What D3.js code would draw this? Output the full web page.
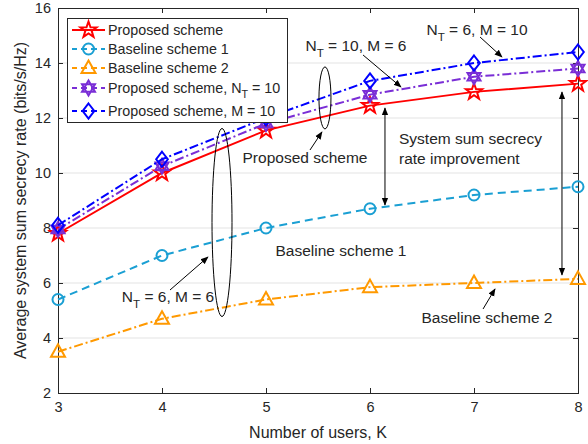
<!DOCTYPE html>
<html>
<head>
<meta charset="utf-8">
<script src="https://cdn.jsdelivr.net/npm/d3@7"></script>
<style>
  body { margin: 0; background: #fff; }
  text { font-family: "Liberation Sans", Arial, sans-serif; fill: #262626; }
</style>
</head>
<body>
<div id="chart"></div>
<script>
// data
var users = [3, 4, 5, 6, 7, 8];
var proposed = [7.8, 10.0, 11.55, 12.45, 12.95, 13.25];
var baseline1 = [5.4, 7.0, 8.0, 8.7, 9.2, 9.5];
var baseline2 = [3.5, 4.7, 5.4, 5.85, 6.0, 6.15];
var proposedNT10 = [7.95, 10.25, 11.8, 12.85, 13.5, 13.8];
var proposedM10 = [8.1, 10.5, 12.0, 13.35, 14.0, 14.4];
var xTicks = [3, 4, 5, 6, 7, 8];
var yTicks = [2, 4, 6, 8, 10, 12, 14, 16];

var w = 588, h = 444;
var margin = { top: 8, right: 10, bottom: 51, left: 58 };

var svg = d3.select("#chart").append("svg")
  .attr("width", w)
  .attr("height", h);

var xScale = d3.scaleLinear().domain([3, 8]).range([margin.left, w - margin.right]);
var yScale = d3.scaleLinear().domain([2, 16]).range([h - margin.bottom, margin.top]);

// grid
svg.append("g").selectAll("line")
  .data(yTicks.slice(1, -1))
  .enter().append("line")
  .attr("x1", xScale(3)).attr("x2", xScale(8))
  .attr("y1", function(d) { return yScale(d); })
  .attr("y2", function(d) { return yScale(d); })
  .attr("stroke", "#e3e3e3")
  .attr("stroke-width", 1);

// axes, ticks inward
var xAxis = d3.axisBottom(xScale).tickValues(xTicks).tickFormat(d3.format("d")).tickSize(-5).tickSizeOuter(0).tickPadding(9);
var xAxisTop = d3.axisTop(xScale).tickValues(xTicks).tickSize(-5).tickSizeOuter(0).tickFormat("");
var yAxis = d3.axisLeft(yScale).tickValues(yTicks).tickFormat(d3.format("d")).tickSize(-5).tickSizeOuter(0).tickPadding(7);
var yAxisRight = d3.axisRight(yScale).tickValues(yTicks).tickSize(-5).tickSizeOuter(0).tickFormat("");

function styleAxis(g) {
  g.select(".domain").remove();
  g.selectAll("line").attr("stroke", "#262626");
  g.selectAll("text").style("font-size", "14.5px").attr("fill", "#262626")
   .style("font-family", "Liberation Sans, Arial, sans-serif");
}
svg.append("g").attr("transform", "translate(0," + yScale(2) + ")").call(xAxis).call(styleAxis);
svg.append("g").attr("transform", "translate(0," + yScale(16) + ")").call(xAxisTop).call(styleAxis);
svg.append("g").attr("transform", "translate(" + xScale(3) + ",0)").call(yAxis).call(styleAxis);
svg.append("g").attr("transform", "translate(" + xScale(8) + ",0)").call(yAxisRight).call(styleAxis);

svg.append("rect")
  .attr("x", xScale(3) + 0.5).attr("y", yScale(16) + 0.5)
  .attr("width", xScale(8) - xScale(3)).attr("height", yScale(2) - yScale(16))
  .attr("fill", "none").attr("stroke", "#262626").attr("stroke-width", 1);

// markers
function starPath(R, n, ratio) {
  var pts = [];
  for (var i = 0; i < 2 * n; i++) {
    var r = i % 2 === 0 ? R : R * ratio;
    var a = -Math.PI / 2 + i * Math.PI / n;
    pts.push([r * Math.cos(a), r * Math.sin(a)]);
  }
  return "M" + pts.map(function(p) { return p[0].toFixed(2) + "," + p[1].toFixed(2); }).join("L") + "Z";
}
function hexagramPath(R) {
  var p = "";
  [ -Math.PI / 2, Math.PI / 2 ].forEach(function(a0) {
    var pts = [];
    for (var i = 0; i < 3; i++) {
      var a = a0 + i * 2 * Math.PI / 3;
      pts.push([R * Math.cos(a), R * Math.sin(a)]);
    }
    p += "M" + pts.map(function(q) { return q[0].toFixed(2) + "," + q[1].toFixed(2); }).join("L") + "Z";
  });
  return p;
}
var markers = {
  star: starPath(8.5, 5, 0.4),
  circle: "M5.5,0A5.5,5.5 0 1,1 -5.5,0A5.5,5.5 0 1,1 5.5,0Z",
  triangle: "M0,-7.5L7,5L-7,5Z",
  hexagram: hexagramPath(7.5),
  diamond: "M0,-7.5L5.8,0L0,7.5L-5.8,0Z"
};

var series = [
  { name: "Proposed scheme", values: proposed, color: "#ff0000", dash: null, marker: "star" },
  { name: "Baseline scheme 1", values: baseline1, color: "#1a9fd3", dash: "8,5", marker: "circle" },
  { name: "Baseline scheme 2", values: baseline2, color: "#ff9900", dash: "9,3,2,3", marker: "triangle" },
  { name: "Proposed scheme, N", sub: "T", after: " = 10", values: proposedNT10, color: "#7a2ed6", dash: "9,3,2,3", marker: "hexagram" },
  { name: "Proposed scheme, M = 10", values: proposedM10, color: "#0000ff", dash: "9,3,2,3", marker: "diamond" }
];

var line = d3.line()
  .x(function(d, i) { return xScale(users[i]); })
  .y(function(d) { return yScale(d); });

series.forEach(function(s) {
  svg.append("path")
    .datum(s.values)
    .attr("d", line)
    .attr("fill", "none")
    .attr("stroke", s.color)
    .attr("stroke-width", 2)
    .attr("stroke-dasharray", s.dash);
  svg.append("g").selectAll("path")
    .data(s.values)
    .enter().append("path")
    .attr("d", markers[s.marker])
    .attr("transform", function(d, i) { return "translate(" + xScale(users[i]) + "," + yScale(d) + ")"; })
    .attr("fill", "none")
    .attr("stroke", s.color)
    .attr("stroke-width", 2);
});

// annotations (data coordinates)
var defs = svg.append("defs");
defs.append("marker")
  .attr("id", "head")
  .attr("viewBox", "0 0 10 10")
  .attr("refX", 9).attr("refY", 5)
  .attr("markerWidth", 8).attr("markerHeight", 8)
  .attr("markerUnits", "userSpaceOnUse")
  .attr("orient", "auto-start-reverse")
  .append("path").attr("d", "M0,1L10,5L0,9Z").attr("fill", "#000");

var arrows = [
  [5.423, 10.836, 5.538, 11.491],
  [4.077, 5.745, 4.442, 6.945],
  [7.058, 14.945, 7.269, 14.218],
  [5.933, 14.291, 6.298, 13.127],
  [7.087, 5.055, 7.202, 5.782]
];
var doubleArrows = [
  [6.144, 12.364, 6.144, 8.836],
  [7.846, 12.945, 7.846, 6.291]
];
var ellipses = [
  { x: 5.567, y: 12.73, rx: 6, ry: 31 },
  { x: 4.577, y: 8.2, rx: 10, ry: 94 }
];
var labels = [
  { x: 5.375, y: 10.545, t: ["Proposed scheme"], anchor: "middle" },
  { x: 4.058, y: 5.491, t: ["N", "T", " = 6, M = 6"], anchor: "middle" },
  { x: 7.029, y: 15.2, t: ["N", "T", " = 6, M = 10"], anchor: "middle" },
  { x: 5.865, y: 14.618, t: ["N", "T", " = 10, M = 6"], anchor: "middle" },
  { x: 6.279, y: 11.236, t: ["System sum secrecy"], anchor: "start" },
  { x: 6.279, y: 10.509, t: ["rate improvement"], anchor: "start" },
  { x: 5.721, y: 7.164, t: ["Baseline scheme 1"], anchor: "middle" },
  { x: 7.125, y: 4.727, t: ["Baseline scheme 2"], anchor: "middle" }
];

svg.append("g").selectAll("ellipse")
  .data(ellipses).enter().append("ellipse")
  .attr("cx", function(d) { return xScale(d.x); })
  .attr("cy", function(d) { return yScale(d.y); })
  .attr("rx", function(d) { return d.rx; })
  .attr("ry", function(d) { return d.ry; })
  .attr("fill", "none").attr("stroke", "#000").attr("stroke-width", 1);

svg.append("g").selectAll("line")
  .data(arrows).enter().append("line")
  .attr("x1", function(d) { return xScale(d[0]); })
  .attr("y1", function(d) { return yScale(d[1]); })
  .attr("x2", function(d) { return xScale(d[2]); })
  .attr("y2", function(d) { return yScale(d[3]); })
  .attr("stroke", "#000").attr("stroke-width", 1)
  .attr("marker-end", "url(#head)");

svg.append("g").selectAll("line")
  .data(doubleArrows).enter().append("line")
  .attr("x1", function(d) { return xScale(d[0]); })
  .attr("y1", function(d) { return yScale(d[1]); })
  .attr("x2", function(d) { return xScale(d[2]); })
  .attr("y2", function(d) { return yScale(d[3]); })
  .attr("stroke", "#000").attr("stroke-width", 1)
  .attr("marker-start", "url(#head)")
  .attr("marker-end", "url(#head)");

function writeText(sel, parts, size) {
  sel.append("tspan").text(parts[0]);
  if (parts.length > 1) {
    sel.append("tspan").attr("dy", size * 0.35).style("font-size", (size * 0.75) + "px").text(parts[1]);
    sel.append("tspan").attr("dy", -size * 0.35).text(parts[2]);
  }
}

labels.forEach(function(d) {
  var t = svg.append("text")
    .attr("x", xScale(d.x))
    .attr("y", yScale(d.y))
    .attr("dy", "0.35em")
    .attr("text-anchor", d.anchor)
    .style("font-size", "15.5px");
  writeText(t, d.t, 15.5);
});

// legend
var lg = svg.append("g");
lg.append("rect")
  .attr("x", 67.5).attr("y", 18.5).attr("width", 220).attr("height", 104)
  .attr("fill", "#fff").attr("stroke", "#262626").attr("stroke-width", 1);
var rowY = [30, 49, 68, 88, 111];
series.forEach(function(s, i) {
  var y = rowY[i];
  lg.append("line")
    .attr("x1", 72).attr("x2", 105).attr("y1", y).attr("y2", y)
    .attr("stroke", s.color).attr("stroke-width", 2)
    .attr("stroke-dasharray", s.dash ? "6,4" : null)
    .attr("stroke-dashoffset", s.dash ? 1 : null);
  lg.append("path")
    .attr("d", markers[s.marker])
    .attr("transform", "translate(88.5," + y + ")")
    .attr("fill", "none").attr("stroke", s.color).attr("stroke-width", 2);
  var t = lg.append("text")
    .attr("x", 108).attr("y", y).attr("dy", "0.35em")
    .style("font-size", "14.3px");
  writeText(t, s.sub ? [s.name, s.sub, s.after] : [s.name], 14.3);
});

// axis titles
svg.append("text")
  .attr("text-anchor", "middle")
  .attr("x", (xScale(3) + xScale(8)) / 2)
  .attr("y", 432)
  .attr("dy", "0.35em")
  .style("font-size", "16px")
  .text("Number of users, K");
svg.append("text")
  .attr("text-anchor", "middle")
  .attr("transform", "translate(20," + ((yScale(2) + yScale(16)) / 2) + ")rotate(-90)")
  .attr("dy", "0.35em")
  .style("font-size", "16px")
  .text("Average system sum secrecy rate (bits/s/Hz)");
</script>
</body>
</html>
